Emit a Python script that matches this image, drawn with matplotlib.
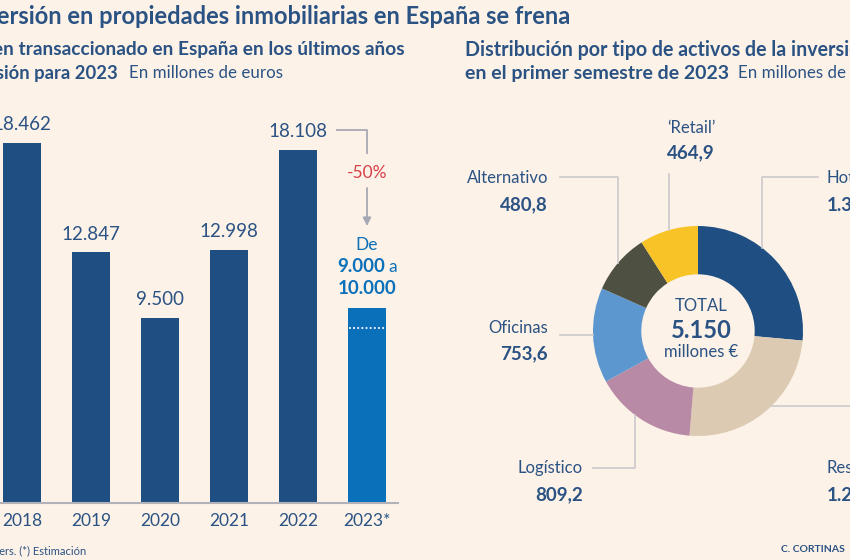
import numpy as np
import matplotlib
matplotlib.use("Agg")
import matplotlib.pyplot as plt

# --- data -------------------------------------------------------------
years = ["2018", "2019", "2020", "2021", "2022", "2023*"]
volumes = [18462, 12847, 9500, 12998, 18108, 10000]
value_labels = ["18.462", "12.847", "9.500", "12.998", "18.108", ""]
estimate_low = 9000

asset_types = ["Hoteles", "Residencial", "Logístico", "Oficinas", "Alternativo", "‘Retail’"]
asset_values = [1362.4, 1279.1, 809.2, 753.6, 480.8, 464.9]
asset_labels = ["1.362,4", "1.279,1", "809,2", "753,6", "480,8", "464,9"]
total_label = "5.150"

# --- style ------------------------------------------------------------
BG = "#fcf2e8"
NAVY = "#1f4f82"
TXT = "#2a5283"
BLUE23 = "#0a70ba"
RED = "#d8404a"
LEAD = "#cdcacd"
ARROW = "#a8a7b5"
DONUT = ["#1f4f82", "#dccab2", "#b98aa6", "#5d97cf", "#4e5041", "#f8c326"]

plt.rcParams["font.family"] = ["Lato", "DejaVu Sans"]

W, H = 850, 560
fig = plt.figure(figsize=(W / 100, H / 100), dpi=100, facecolor=BG)

# overlay axes in pixel coordinates (y downwards) for text and leader lines
ov = fig.add_axes([0, 0, 1, 1], zorder=5)
ov.set_xlim(0, W)
ov.set_ylim(H, 0)
ov.axis("off")
ov.patch.set_alpha(0)

# --- titles -----------------------------------------------------------
ov.text(570, 17, "La inversión en propiedades inmobiliarias en España se frena",
        ha="right", va="center", fontsize=17, fontweight="bold", color=TXT)
ov.text(405, 50, "Volumen transaccionado en España en los últimos años",
        ha="right", va="center", fontsize=13.75, fontweight="bold", color=TXT)
ov.text(118, 73, "y previsión para 2023", ha="right", va="center",
        fontsize=13.2, fontweight="bold", color=TXT)
ov.text(129, 73, "En millones de euros", ha="left", va="center",
        fontsize=12.2, color=TXT)
ov.text(465, 50, "Distribución por tipo de activos de la inversión",
        ha="left", va="center", fontsize=14.1, fontweight="bold", color=TXT)
ov.text(465, 73, "en el primer semestre de 2023", ha="left", va="center",
        fontsize=14, fontweight="bold", color=TXT)
ov.text(738, 73, "En millones de euros", ha="left", va="center",
        fontsize=12.2, color=TXT)
ov.text(86, 551, "Fuente: Colliers. (*) Estimación", ha="right", va="center",
        fontsize=8, color=TXT)
ov.text(845, 550, "C. CORTINAS", ha="right", va="center",
        fontsize=7.5, fontweight="bold", color=TXT)

# --- bar chart ----------------------------------------------------------
px_per_unit = 360 / 18462
base_px, top_px = 503, 100
ax = fig.add_axes([0, (H - base_px) / H, 398 / W, (base_px - top_px) / H])
ax.set_facecolor("none")
x = np.arange(len(years))
colors = [NAVY] * (len(years) - 1) + [BLUE23]
ax.bar(x, volumes, width=0.55, color=colors)
ax.set_xlim(-22 / 69, -22 / 69 + 398 / 69)
ax.set_ylim(0, (base_px - top_px) / px_per_unit)
for s in ("top", "right", "left"):
    ax.spines[s].set_visible(False)
ax.spines["bottom"].set_color("#b3b2ba")
ax.spines["bottom"].set_linewidth(1.5)
ax.set_yticks([])
ax.set_xticks(x, years)
ax.tick_params(axis="x", length=0, pad=7, labelsize=12.5, labelcolor=TXT)

for xi, v, lab in zip(x, volumes, value_labels):
    if lab:
        ax.annotate(lab, (xi, v), xytext=(0, 7), textcoords="offset points",
                    ha="center", va="bottom", fontsize=13.5, color=TXT)

ax.hlines(estimate_low, x[-1] - 0.26, x[-1] + 0.26, colors="white",
          linestyles=(0, (1, 1.3)), linewidth=1.3)


def ydat(px):
    return (base_px - px) / px_per_unit


ax.plot([4.57, 5, 5], [ydat(130), ydat(130), ydat(153)], color=ARROW, lw=1.3,
        clip_on=False)
ax.text(5, ydat(173), "-50%", ha="center", va="center", fontsize=12.5, color=RED)
ax.annotate("", xy=(5, ydat(226)), xytext=(5, ydat(188)),
            arrowprops=dict(arrowstyle="-|>", color=ARROW, lw=1.3,
                            mutation_scale=12, shrinkA=0, shrinkB=0))
ax.text(5, ydat(245), "De", ha="center", va="center", fontsize=12.5, color=BLUE23)
ax.text(5.26, ydat(267), "9.000", ha="right", va="center", fontsize=13.5,
        fontweight="bold", color=BLUE23)
ax.text(5.31, ydat(267), "a", ha="left", va="center", fontsize=12.5, color=BLUE23)
ax.text(5, ydat(288), "10.000", ha="center", va="center", fontsize=13.5,
        fontweight="bold", color=BLUE23)

# --- donut --------------------------------------------------------------
cx, cy, r_out = 698, 331, 105
pax = fig.add_axes([(cx - r_out) / W, (H - cy - r_out) / H, 2 * r_out / W, 2 * r_out / H])
wedges, _ = pax.pie(asset_values, colors=DONUT, startangle=90, counterclock=False,
                    radius=1, wedgeprops=dict(width=0.46, edgecolor="none"))
pax.set_xlim(-1, 1)
pax.set_ylim(-1, 1)
pax.set_aspect("equal")
pax.axis("off")


def anchor(w, shift=0.0):
    ang = np.deg2rad((w.theta1 + w.theta2) / 2 + shift)
    return cx + r_out * np.cos(ang), cy - r_out * np.sin(ang)


ov.text(701, 306, "TOTAL", ha="center", va="center", fontsize=12, color=TXT)
ov.text(701, 331, total_label, ha="center", va="center", fontsize=17,
        fontweight="bold", color=TXT)
ov.text(701, 352, "millones €", ha="center", va="center", fontsize=12, color=TXT)

lw = 1.2
# Hoteles
ax_, ay_ = anchor(wedges[0], 10)
ov.plot([ax_, ax_, 818], [ay_, 177, 177], color=LEAD, lw=lw)
ov.text(827, 178, asset_types[0], ha="left", va="center", fontsize=12, color=TXT)
ov.text(827, 205, asset_labels[0], ha="left", va="center", fontsize=13.5,
        fontweight="bold", color=TXT)
# Residencial
ax_, ay_ = anchor(wedges[1], 4)
ov.plot([ax_, W], [ay_, ay_], color=LEAD, lw=lw)
ov.text(827, 468, asset_types[1], ha="left", va="center", fontsize=12, color=TXT)
ov.text(827, 495, asset_labels[1], ha="left", va="center", fontsize=13.5,
        fontweight="bold", color=TXT)
# Logistico
ax_, ay_ = anchor(wedges[2], -4)
ov.plot([593, ax_, ax_], [468, 468, ay_], color=LEAD, lw=lw)
ov.text(583, 468, asset_types[2], ha="right", va="center", fontsize=12, color=TXT)
ov.text(583, 495, asset_labels[2], ha="right", va="center", fontsize=13.5,
        fontweight="bold", color=TXT)
# Oficinas
ax_, ay_ = anchor(wedges[3])
ov.plot([560, ax_], [ay_, ay_], color=LEAD, lw=lw)
ov.text(548, 328, asset_types[3], ha="right", va="center", fontsize=12, color=TXT)
ov.text(548, 354, asset_labels[3], ha="right", va="center", fontsize=13.5,
        fontweight="bold", color=TXT)
# Alternativo
ax_, ay_ = anchor(wedges[4])
ov.plot([560, ax_, ax_], [177, 177, ay_], color=LEAD, lw=lw)
ov.text(548, 178, asset_types[4], ha="right", va="center", fontsize=12, color=TXT)
ov.text(548, 205, asset_labels[4], ha="right", va="center", fontsize=13.5,
        fontweight="bold", color=TXT)
# Retail
ax_, ay_ = anchor(wedges[5])
ov.plot([ax_, ax_], [ay_, 174], color=LEAD, lw=lw)
ov.text(691, 128, asset_types[5], ha="center", va="center", fontsize=12, color=TXT)
ov.text(691, 153, asset_labels[5], ha="center", va="center", fontsize=13.5,
        fontweight="bold", color=TXT)

fig.savefig("out.png", dpi=100, facecolor=BG)
